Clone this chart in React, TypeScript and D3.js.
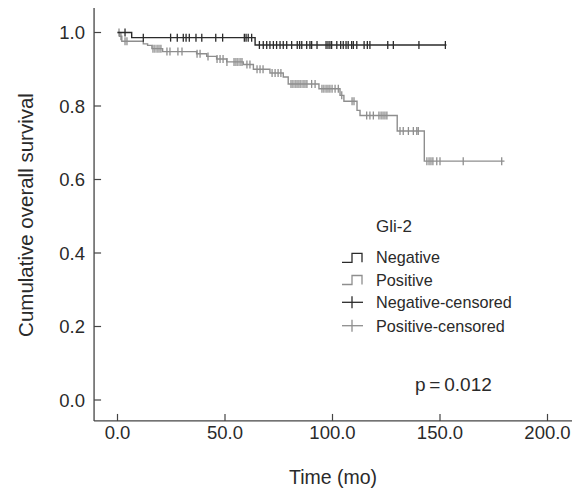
import * as d3 from "d3";

// step points of each Kaplan-Meier curve (time in months, cumulative survival)
const negTimes = [0, 6.6, 64];
const negSurv = [1.0, 0.986, 0.966];
const negEnd = 153;
const negCensored = [
  3.5, 12, 24.7, 27.8, 30.6, 31.9, 33.4, 36.5, 39.2, 45.7, 48.9, 59, 59.8, 60.8, 62.4, 66, 67.8,
  69.4, 70.9, 72.5, 74, 75.6, 77.1, 78.7, 81, 83.6, 84.7, 85.7, 88, 89.5, 90.3, 92.8, 97, 97.9,
  98.8, 99.6, 102, 103.8, 105, 106.3, 107.3, 108.9, 109.7, 111.3, 114.7, 116.2, 117.4, 125.7,
  128.3, 140.2, 152.5,
];

const posTimes = [
  0, 1, 2, 12, 14, 16, 21, 36.8, 41.5, 46.1, 50.8, 58.5, 63.2, 70.9, 77.1, 79.4, 93.7, 103.5,
  105.3, 111.4, 112.8, 130.1, 142.7,
];
const posSurv = [
  1.0, 0.99, 0.976, 0.969, 0.965, 0.956, 0.948, 0.942, 0.935, 0.928, 0.92, 0.913, 0.9, 0.89,
  0.879, 0.86, 0.847, 0.829, 0.813, 0.788, 0.774, 0.732, 0.65,
];
const posEnd = 180;
const posCensored = [
  0.7, 1.6, 3.5, 4.4, 16.5, 17.4, 18.4, 19.3, 20.2, 23, 24.4, 28.1, 30, 37, 38.4, 42.1, 46.3,
  47.7, 49.1, 50.9, 54.2, 55.1, 56, 57, 57.9, 60.2, 61.6, 64.9, 66.3, 67.7, 71.9, 73.3, 74.7, 76,
  80.7, 81.6, 82.6, 83.5, 84.4, 85.3, 86.3, 87.2, 88.1, 90.3, 91.9, 95.1, 96, 97, 97.9, 98.8,
  99.8, 101.2, 102.7, 104.3, 109.1, 110, 115.9, 117.4, 119, 121.6, 122.6, 123.5, 124.4, 125.3,
  131.4, 132.9, 135.3, 137.6, 139.2, 139.9, 143.9, 144.9, 145.8, 146.7, 148.5, 150, 160.8, 178.7,
];

const xTicks = [0, 50, 100, 150, 200];
const yTicks = [0, 0.2, 0.4, 0.6, 0.8, 1.0];
const legendLabels = ["Negative", "Positive", "Negative-censored", "Positive-censored"];

const FONT = "'Liberation Sans', Arial, Helvetica, sans-serif";
const DARK = "#2b2b2b";
const GRAY = "#8e8e8e";
const TEXT = "#2a2a2a";

const x = d3.scaleLinear().domain([0, 200]).range([117.5, 547.5]);
const y = d3.scaleLinear().domain([0, 1]).range([400, 32.5]);
const xAxisMin = -10.9;
const xAxisMax = 211.4;
const yAxisMin = -0.057;
const yAxisMax = 1.067;

const line = d3
  .line<[number, number]>()
  .x((d) => x(d[0]))
  .y((d) => y(d[1]))
  .curve(d3.curveStepAfter);

const curvePoints = (times: number[], surv: number[], end: number): [number, number][] => [
  ...times.map((t, i) => [t, surv[i]] as [number, number]),
  [end, surv[surv.length - 1]],
];

const survAt = (times: number[], surv: number[], t: number) => {
  let s = surv[0];
  times.forEach((tt, i) => {
    if (tt <= t) s = surv[i];
  });
  return s;
};

const series = [
  { times: posTimes, surv: posSurv, end: posEnd, censored: posCensored, color: GRAY },
  { times: negTimes, surv: negSurv, end: negEnd, censored: negCensored, color: DARK },
];

export default function App() {
  const axisY = y(yAxisMin);
  const axisX = x(xAxisMin);
  const legendX = 342;
  const legendRows = [263.3, 285.5, 308.3, 331.7];
  const legendColors = [DARK, GRAY, DARK, GRAY];

  return (
    <svg
      width={577}
      height={495}
      style={{ position: "absolute", left: 0, top: 0, background: "#fff" }}
      fontFamily={FONT}
    >
      {/* axes */}
      <line x1={axisX} x2={axisX} y1={y(yAxisMax)} y2={axisY} stroke="#444" strokeWidth={1.3} />
      <line x1={axisX} x2={x(xAxisMax)} y1={axisY} y2={axisY} stroke="#444" strokeWidth={1.3} />
      {yTicks.map((t) => (
        <g key={t}>
          <line x1={axisX} x2={axisX + 7} y1={y(t)} y2={y(t)} stroke="#444" strokeWidth={1.2} />
          <text x={85} y={y(t)} dy="0.36em" textAnchor="end" fontSize={18.5} fill={TEXT}>
            {t.toFixed(1)}
          </text>
        </g>
      ))}
      {xTicks.map((t) => (
        <g key={t}>
          <line x1={x(t)} x2={x(t)} y1={axisY} y2={axisY - 7} stroke="#444" strokeWidth={1.2} />
          <text x={x(t)} y={439} textAnchor="middle" fontSize={18.5} fill={TEXT}>
            {t.toFixed(1)}
          </text>
        </g>
      ))}
      <text x={333} y={484} textAnchor="middle" fontSize={19.5} fill={TEXT}>
        Time (mo)
      </text>
      <text
        transform="translate(33,215) rotate(-90)"
        textAnchor="middle"
        fontSize={20.5}
        fill={TEXT}
      >
        Cumulative overall survival
      </text>

      {/* curves */}
      {series.map((s, i) => (
        <g key={i}>
          <path
            d={line(curvePoints(s.times, s.surv, s.end)) ?? ""}
            fill="none"
            stroke={s.color}
            strokeWidth={1.4}
          />
          {s.censored.map((t, j) => {
            const cy = y(survAt(s.times, s.surv, t));
            return (
              <line
                key={j}
                x1={x(t)}
                x2={x(t)}
                y1={cy - 4}
                y2={cy + 4}
                stroke={s.color}
                strokeWidth={1.3}
              />
            );
          })}
        </g>
      ))}

      {/* legend */}
      <text x={376} y={232} fontSize={17} fill={TEXT}>
        Gli-2
      </text>
      {legendLabels.map((label, i) => {
        const by = legendRows[i];
        const c = legendColors[i];
        return (
          <g key={label}>
            {i < 2 ? (
              <path
                d={`M${legendX},${by - 1}H${legendX + 10}V${by - 10}H${legendX + 20}V${by - 1}`}
                fill="none"
                stroke={c}
                strokeWidth={1.3}
              />
            ) : (
              <g stroke={c} strokeWidth={1.3}>
                <line x1={legendX} x2={legendX + 21} y1={by - 6} y2={by - 6} />
                <line x1={legendX + 10} x2={legendX + 10} y1={by - 12} y2={by} />
              </g>
            )}
            <text x={376} y={by} fontSize={16.2} fill={TEXT}>
              {label}
            </text>
          </g>
        );
      })}

      <text x={415} y={391} fontSize={19} fill={TEXT}>
        {"p\u2009=\u20090.012"}
      </text>
    </svg>
  );
}
